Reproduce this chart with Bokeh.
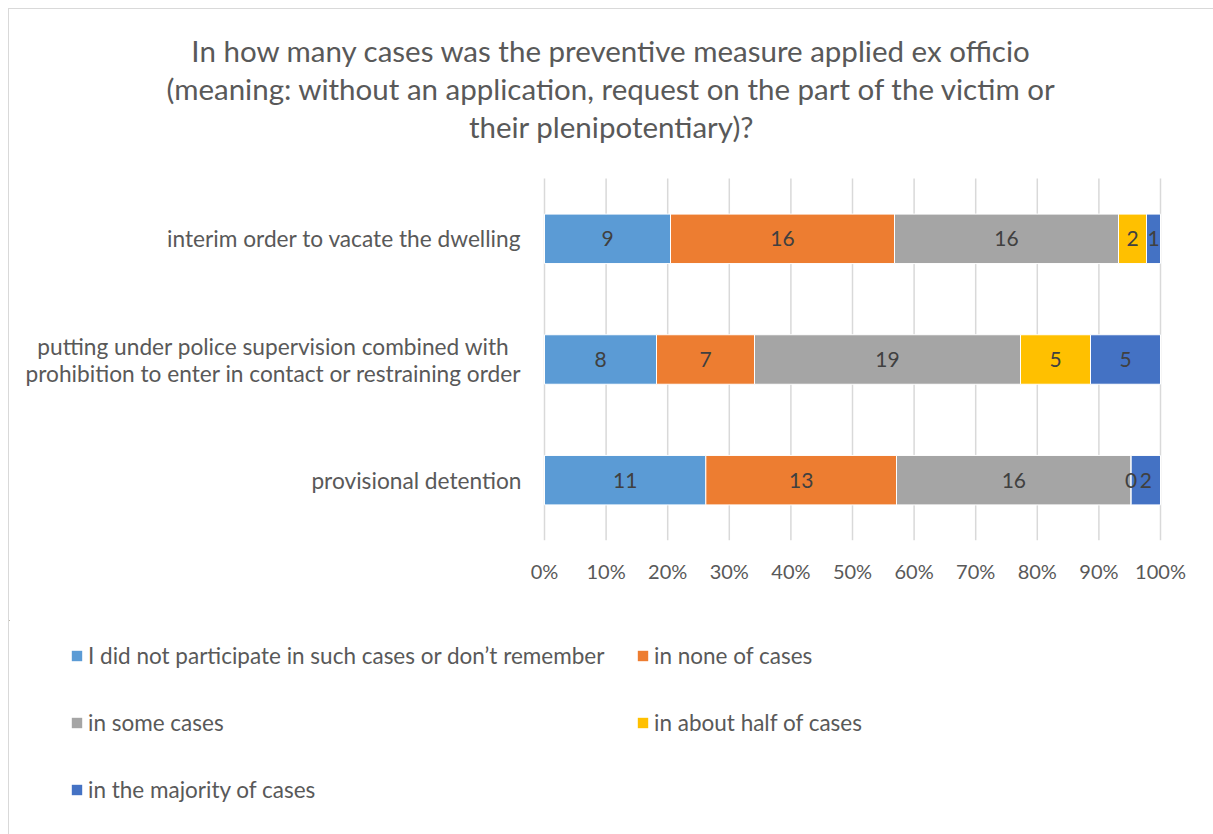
from bokeh.plotting import figure
from bokeh.layouts import column
from bokeh.models import (ColumnDataSource, Range1d, FixedTicker, Label,
                          NumeralTickFormatter, Legend, LegendItem)
from bokeh.core.properties import value
from bokeh.embed import file_html
from bokeh.resources import INLINE

FONT = "Lato"
TXT = "#595959"

title_lines = ["In how many cases was the preventive measure applied ex officio",
               "(meaning: without an application, request on the part of the victim or",
               "their plenipotentiary)?"]

categories = ["provisional detention",
              "putting under police supervision combined with\nprohibition to enter in contact or restraining order",
              "interim order to vacate the dwelling"]
series = ["I did not participate in such cases or don\u2019t remember",
          "in none of cases", "in some cases", "in about half of cases",
          "in the majority of cases"]
colors = ["#5B9BD5", "#ED7D31", "#A5A5A5", "#FFC000", "#4472C4"]
not_participate = [11, 8, 9]
none_cases = [13, 7, 16]
some_cases = [16, 19, 16]
half_cases = [0, 5, 2]
majority_cases = [2, 5, 1]
x_ticks = [i / 10 for i in range(11)]

counts = [not_participate, none_cases, some_cases, half_cases, majority_cases]
totals = [sum(c[i] for c in counts) for i in range(3)]
ypos = [0.5, 1.5, 2.5]

W, H = 1213, 834
OX, OY = 9, 9            # content origin inside the bordered box
FL, FR, FT, FB = 544, 1160, 178, 540
HA = 620                 # bottom of chart figure (absolute px)
BAND = (FB - FT) / 3


def ax(px):
    return (px - FL) / (FR - FL)


def ay(py):
    return (FB - py) / BAND


# ---------------- chart figure ----------------
p = figure(width=W - OX, height=HA - OY,
           x_range=Range1d(ax(OX), ax(W)), y_range=Range1d(ay(FB), ay(OY)),
           min_border_left=0, min_border_right=0, min_border_top=0,
           min_border_bottom=HA - FB, y_axis_location=None,
           output_backend="svg", toolbar_location=None)
p.outline_line_color = None
p.xgrid.visible = False
p.ygrid.visible = False

# grid lines over the category band only
p.segment(x0=x_ticks, x1=x_ticks, y0=[0] * len(x_ticks), y1=[3] * len(x_ticks),
          line_color="#D9D9D9", line_width=1.5)

data = {"y": ypos}
keys = []
for k, c in enumerate(counts):
    key = f"s{k}"
    keys.append(key)
    data[key] = [c[i] / totals[i] for i in range(3)]
src = ColumnDataSource(data)
p.hbar_stack(keys, y="y", height=0.41, color=colors, source=src,
             line_color="white", line_width=1)

# data labels
lx, ly, lt = [], [], []
for i in range(3):
    cum = 0
    for c in counts:
        frac = c[i] / totals[i]
        lx.append(cum + frac / 2)
        ly.append(ypos[i])
        lt.append(str(c[i]))
        cum += frac
lab_src = ColumnDataSource(dict(x=lx, y=ly, text=lt))
p.text(x="x", y="y", text="text", source=lab_src, text_align="center",
       text_baseline="middle", text_font=value(FONT), text_font_size="21px",
       text_color="#404040")

# x axis
p.xaxis.ticker = FixedTicker(ticks=x_ticks)
p.xaxis.formatter = NumeralTickFormatter(format="0%")
p.xaxis.axis_line_color = None
p.xaxis.major_tick_line_color = None
p.xaxis.minor_tick_line_color = None
p.xaxis.major_tick_out = 0
p.xaxis.major_tick_in = 0
p.xaxis.minor_tick_out = 0
p.xaxis.major_label_standoff = 18
p.xaxis.major_label_text_font = FONT
p.xaxis.major_label_text_font_size = "20px"
p.xaxis.major_label_text_color = TXT

# category labels
cat_lines = [(categories[0], 0, 521, "right", 0.0),
             (categories[1].split("\n")[0], 1, 273, "center", -13.5),
             (categories[1].split("\n")[1], 1, 273, "center", 13.5),
             (categories[2], 2, 521, "right", 0.0)]
for txt, i, px, al, dpy in cat_lines:
    p.add_layout(Label(x=ax(px), y=ypos[i] - dpy / BAND, text=txt, text_align=al,
                       text_baseline="middle", text_font=FONT,
                       text_font_size="22.7px", text_color=TXT))

# title
for txt, py in zip(title_lines, [50, 88, 126]):
    p.add_layout(Label(x=ax(611), y=ay(py), text=txt, text_align="center",
                       text_baseline="middle", text_font=FONT,
                       text_font_size="29.5px", text_color=TXT))

# ---------------- legend figure ----------------
q = figure(width=W - OX, height=H - HA, x_range=Range1d(OX, W),
           y_range=Range1d(H, HA), min_border=0, x_axis_location=None,
           y_axis_location=None, output_backend="svg", toolbar_location=None)
q.outline_line_color = None
q.xgrid.visible = False
q.ygrid.visible = False
# same stacked bars, outside this panel's view, only to feed the legend swatches
swatches = q.hbar_stack(keys, y="y", height=0.41, color=colors, source=src,
                        line_color=None)
# location = bottom-left corner of the legend, measured from frame bottom-left
lg = Legend(items=[LegendItem(label=series[k], renderers=[swatches[k]])
                   for k in range(5)],
            location=(70 - OX, H - (789 + 25)), ncols=2, orientation="horizontal",
            border_line_color=None, background_fill_alpha=0,
            label_text_font=FONT, label_text_font_size="22.5px",
            label_text_color=TXT, glyph_width=13, glyph_height=13,
            label_standoff=5, label_height=50, label_width=531, spacing=17,
            padding=0, margin=0)
q.add_layout(lg, "center")

layout = column(p, q, spacing=0, margin=(8, 0, 0, 8),
                styles={"border-left": "1px solid #D9D9D9",
                        "border-top": "1px solid #D9D9D9"})

open("out.html", "w").write(file_html(layout, INLINE))
